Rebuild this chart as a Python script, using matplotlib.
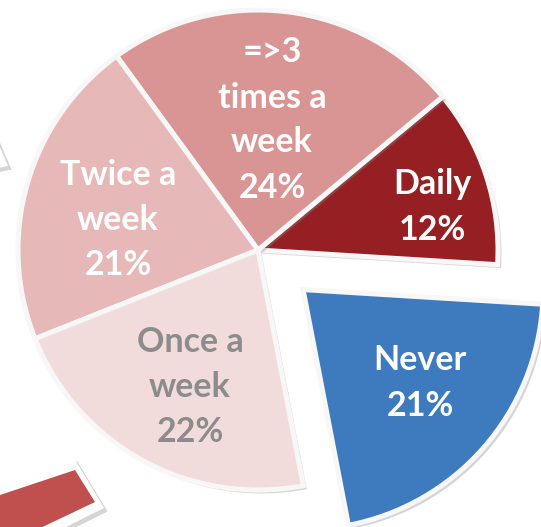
import numpy as np
import matplotlib.pyplot as plt
import matplotlib.patches as patches
import matplotlib.patheffects as pe

my_dpi = 100
W, H = 541, 527

labels = ['Daily', '=>3\ntimes a\nweek', 'Twice a\nweek', 'Once a\nweek', 'Never']
shares = [12, 24, 21, 22, 21]
colors = ['#951F22', '#D99594', '#E6B8B7', '#F2DCDB', '#3E7BBE']
text_cols = ['white', 'white', 'white', '#8C8C8C', 'white']
explode = [0, 0, 0, 0, 0.25]

# pie centre / radius in pixels
cx, cy, R = 258, 250, 240
# label centres in pixels
label_px = [(432, 207), (272, 120), (118, 220), (190, 387), (420, 383)]

fig = plt.figure(figsize=(W / my_dpi, H / my_dpi), dpi=my_dpi)
ax = fig.add_axes([0, 0, 1, 1])
ax.axis('off')

shadow = [pe.SimplePatchShadow(offset=(2.5, -2.5), shadow_rgbFace='#888888', alpha=0.35),
          pe.Normal()]

wedges, _ = ax.pie(shares, colors=colors, explode=explode, startangle=-3.5,
                   counterclock=True, radius=1.0,
                   wedgeprops=dict(edgecolor='#F7F7F7', linewidth=3.6))
for w in wedges:
    w.set_path_effects(shadow)
ax.set_aspect('auto')
ax.set_xlim(-cx / R, (W - cx) / R)
ax.set_ylim(-(H - cy) / R, cy / R)

for lab, s, (px, py), tc in zip(labels, shares, label_px, text_cols):
    ax.text((px - cx) / R, (cy - py) / R, '%s\n%d%%' % (lab, s),
            ha='center', va='center', color=tc, fontsize=24.5,
            fontweight='bold', family='Lato', linespacing=1.5)

# fragments of other slide shapes at left edge
deco = fig.add_axes([0, 0, 1, 1], zorder=-1)
deco.set_xlim(0, W)
deco.set_ylim(H, 0)
deco.axis('off')
bar_white = patches.Polygon([(-40, 492), (74, 458), (104, 508), (-10, 565)], closed=True,
                            facecolor='white', edgecolor='none')
bar_white.set_path_effects(shadow)
deco.add_patch(bar_white)
deco.add_patch(patches.Polygon([(-30, 505), (75, 470), (95, 502), (-10, 552)], closed=True,
                               facecolor='#C0504D', edgecolor='none'))
arrow = patches.Polygon([(-20, 100), (8, 166), (-20, 172)], closed=True,
                        facecolor='white', edgecolor='none')
arrow.set_path_effects(shadow)
deco.add_patch(arrow)

fig.savefig('out.png', dpi=my_dpi)
